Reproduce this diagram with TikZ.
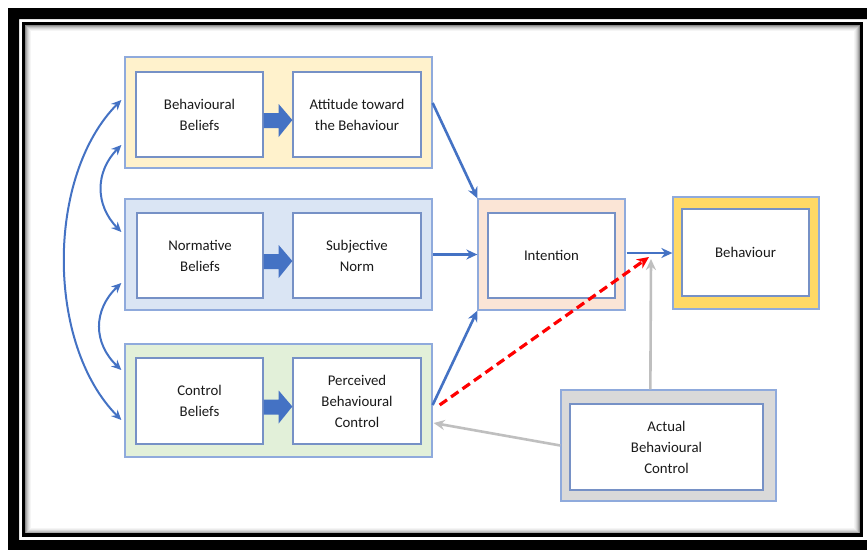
\documentclass[tikz,border=0pt]{standalone}
\usepackage{fontspec}
\setmainfont{Carlito}
\usetikzlibrary{arrows.meta,calc}

\definecolor{edgeblue}{HTML}{8FAADC}
\definecolor{innerblue}{HTML}{7691C6}
\definecolor{arrowblue}{HTML}{4472C4}
\definecolor{yelfill}{HTML}{FFF2CC}
\definecolor{bluefill}{HTML}{DAE5F4}
\definecolor{greenfill}{HTML}{E2F0D9}
\definecolor{peachfill}{HTML}{FBE5D6}
\definecolor{goldfill}{HTML}{FFD966}
\definecolor{grayfill}{HTML}{D9D9D9}
\definecolor{linkgray}{HTML}{BFBFBF}
\definecolor{textdark}{HTML}{1A1A1A}

\tikzset{
  outerbox/.style={draw=edgeblue, line width=1.3pt, inner sep=0pt, minimum width=307pt, minimum height=111pt},
  innerbox/.style={draw=innerblue, line width=1.3pt, fill=white, inner sep=0pt, align=center,
    minimum width=127pt, minimum height=85pt, text=textdark, font=\fontsize{14.8}{21}\selectfont},
  flow/.style={draw=arrowblue, line width=2.6pt, -{Stealth[length=11pt,width=10pt]}},
  bothway/.style={draw=arrowblue, line width=2pt, {Stealth[length=10pt,width=9pt]}-{Stealth[length=10pt,width=9pt]}},
  grayflow/.style={draw=linkgray, line width=2.6pt, -{Stealth[length=11pt,width=10pt]}},
  reddash/.style={draw=red, line width=3.2pt, dash pattern=on 9pt off 5pt, -{Stealth[length=12pt,width=11pt]}},
  blockarrow/.style={fill=arrowblue},
}

\begin{document}
\begin{tikzpicture}[x=1pt,y=-1pt]
\useasboundingbox (0,0) rectangle (867,549);
\fill[white] (0,0) rectangle (867,549);

% double black frame with an inner shadow
\fill[black, even odd rule] (8,8) rectangle (900,600) (19,19) rectangle (868,540);
\foreach \i/\op in {1/0.45,2/0.32,3/0.22,4/0.14,5/0.08,6/0.04}{
  \draw[black, opacity=\op, line width=1pt] (23.5+\i+1,23.5+\i+1) rectangle (861.5-\i-1,535-\i-1);
}
\draw[black, line width=3.5pt] (23.5,23.5) rectangle (861.5,535);

% coloured group boxes
\node[outerbox, fill=yelfill]   (yel) at (278.5,112.5) {};
\node[outerbox, fill=bluefill]  (blu) at (278.5,254.5) {};
\node[outerbox, fill=greenfill, minimum height=113pt] (grn) at (278.5,400.5) {};
\node[outerbox, fill=peachfill, minimum width=147pt] (intout) at (551.5,254.5) {};
\node[outerbox, fill=goldfill, minimum width=146pt, minimum height=112pt] (behout) at (746,253) {};
\node[outerbox, fill=grayfill, minimum width=215pt] (abcout) at (668.5,445.5) {};

% inner text boxes
\node[innerbox] (bb)  at (199.5,114.5) {Behavioural\\Beliefs};
\node[innerbox, minimum width=128pt] (att) at (357,114.5) {Attitude toward\\the Behaviour};
\node[innerbox, minimum width=126pt] (nb)  at (200,255.5) {Normative\\Beliefs};
\node[innerbox, minimum width=128pt] (sn)  at (357,255.5) {Subjective\\Norm};
\node[innerbox, minimum height=86pt] (cb)  at (199.5,401) {Control\\Beliefs};
\node[innerbox, minimum width=128pt, minimum height=86pt] (pbc) at (357,401) {Perceived\\Behavioural\\Control};
\node[innerbox] (int) at (551.5,255.5) {Intention};
\node[innerbox, minimum height=87pt] (beh) at (745.5,252.5) {Behaviour};
\node[innerbox, minimum width=193pt, minimum height=86pt] (abc) at (666.5,447) {Actual\\Behavioural\\Control};

% block arrows from beliefs to their evaluations
\foreach \a/\b in {bb/att, nb/sn, cb/pbc}{
  \fill[blockarrow] ($(\a.east)+(0,-1.5)$) -- ++(15,0) -- ++(0,-9)
    -- ($(\b.west)+(0,5.5)$) -- ($(\a.east)+(15,22.5)$) -- ++(0,-9)
    -- ($(\a.east)+(0,13.5)$) -- cycle;
}

% correlations among belief groups
\coordinate (bigtop) at ($(yel.west)+(-3,-12.5)$);
\coordinate (bigbot) at ($(grn.west)+(-3,19.5)$);
\draw[bothway] (bigtop) .. controls (46,176) and (46,344) .. (bigbot);
\coordinate (s1top) at ($(yel.west)+(-3,32.5)$);
\coordinate (s1bot) at ($(blu.west)+(-3,-22.5)$);
\draw[bothway] (s1top) .. controls (95,172) and (95,205) .. (s1bot);
\coordinate (s2top) at ($(blu.west)+(-3,28.5)$);
\coordinate (s2bot) at ($(grn.west)+(-3,-30.5)$);
\draw[bothway] (s2top) .. controls (93,310) and (93,343) .. (s2bot);

% paths into intention and behaviour
\draw[flow] ($(yel.east)+(0,-9.5)$) -- (intout.north west);
\draw[flow] (blu.east) -- (intout.west);
\draw[flow] ($(grn.east)+(0,4.5)$) -- (intout.south west);
\draw[flow] ($(intout.east)+(1,-1.5)$) -- (behout.west);

% actual control links
\coordinate (meet) at (651,259);
\draw[grayflow] ($(abcout.north west)+(90,0)$) -- (meet);
\draw[grayflow] (abcout.west) -- ($(grn.east)+(1,22.5)$);
\draw[reddash] ($(grn.east)+(7,4.5)$) -- ($(meet)+(-2,-2)$);
\end{tikzpicture}
\end{document}
